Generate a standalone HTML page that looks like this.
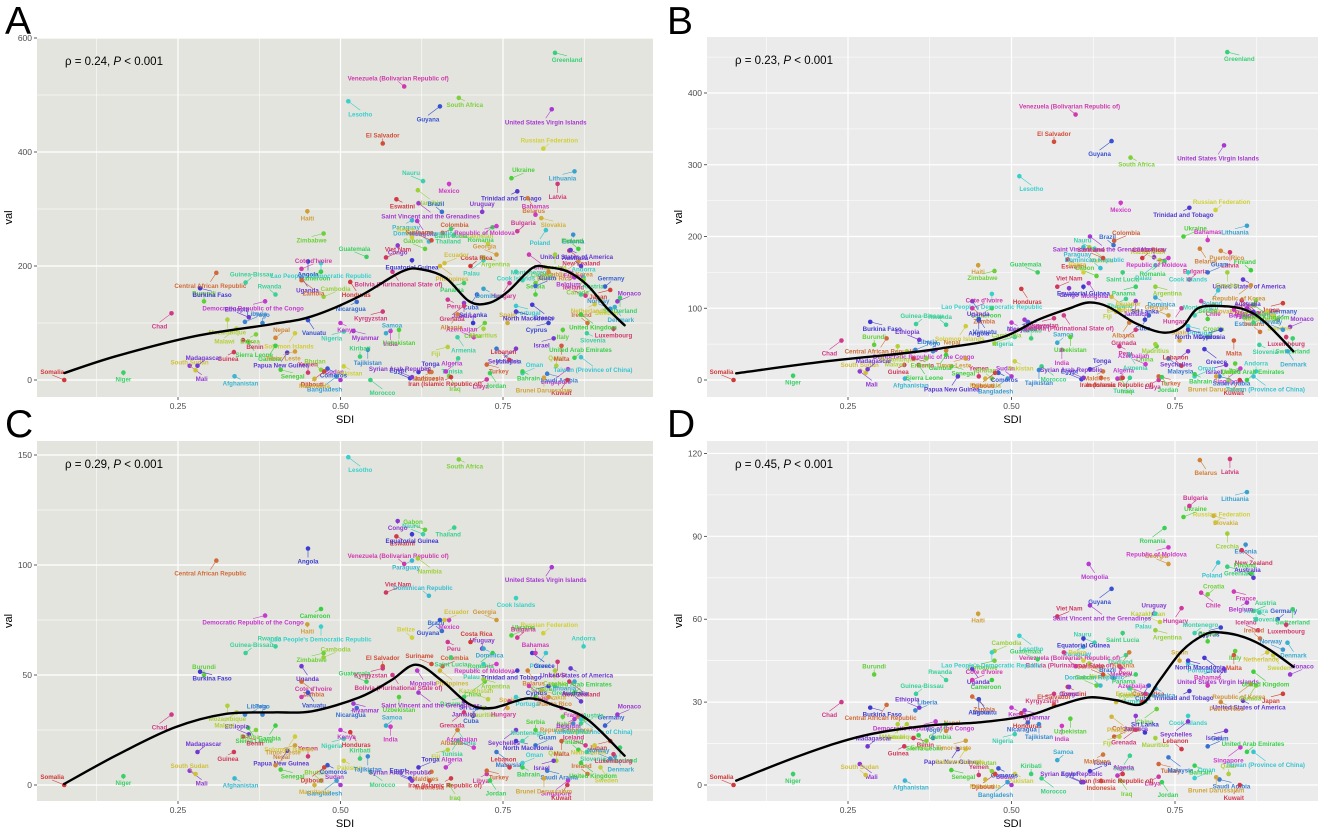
<!DOCTYPE html>
<html><head><meta charset="utf-8">
<style>
html,body{margin:0;padding:0;background:#fff;}
svg{display:block;font-family:"Liberation Sans",Arial,sans-serif;}
</style></head>
<body>
<svg id="chart" width="1325" height="833" viewBox="0 0 1325 833" xmlns="http://www.w3.org/2000/svg"></svg>
<script>
const countries = ["Somalia","Niger","Mali","South Sudan","Afghanistan","Chad","Burundi","Burkina Faso","Central African Republic","Guinea-Bissau","Democratic Republic of the Congo","Mozambique","Liberia","Guinea","Sierra Leone","Ethiopia","Haiti","Lesotho","Venezuela (Bolivarian Republic of)","South Africa","Guyana","El Salvador","Greenland","United States Virgin Islands","Russian Federation","Lithuania","Latvia","Ukraine","Trinidad and Tobago","Belarus","Nauru","Mexico","Namibia","Brazil","Eswatini","Romania","Uruguay","Slovakia","Poland","Bulgaria","Zimbabwe","Angola","Colombia","Thailand","Mongolia","Kazakhstan","Estonia","New Zealand","Finland","United States of America","Republic of Korea","Andorra","France","Canada","Germany","Japan","Switzerland","Monaco","Netherlands","Denmark","Iceland","Italy","Greece","Ireland","Slovenia","Singapore","Qatar","Saudi Arabia","Kuwait","United Arab Emirates","Israel","Brunei Darussalam","Oman","Libya","Iraq","Egypt","Indonesia","Morocco","Sudan","Pakistan","Bangladesh","Yemen","Senegal","Papua New Guinea","Nepal","Nigeria","India","Cambodia","Nicaragua","Honduras","Guatemala","Congo","Philippines","Dominican Republic","Peru","China","Sri Lanka","Turkey","Tunisia","Algeria","Fiji","Tajikistan","Viet Nam","Cameroon","Uganda","Georgia","Cook Islands","Chile",
"Bhutan","Comoros","Djibouti","Kiribati","Myanmar","Solomon Islands","Samoa","Kyrgyzstan","Uzbekistan","Tonga","Maldives","Armenia","Azerbaijan","Mauritius","Malaysia","Lebanon","Bahrain","Seychelles","Spain","Portugal","Hungary","Croatia","Cyprus","Malta","Austria","Belgium","Sweden","Norway","Luxembourg","United Kingdom","Australia","Puerto Rico","Palau","Bahamas","Argentina","Cuba","Costa Rica","Panama","Jamaica","Ecuador","Paraguay","Bolivia (Plurinational State of)","Gabon","Equatorial Guinea","Zambia","Rwanda","Kenya","Malawi","Togo","Benin","Gambia","Madagascar","Timor-Leste","Lao People's Democratic Republic","Cote d'Ivoire","Eritrea","Vanuatu","Suriname","Saint Lucia","Saint Vincent and the Grenadines","Belize","Dominica","Grenada","Serbia","North Macedonia","Albania","Montenegro","Republic of Moldova","Czechia","Guam","Iran (Islamic Republic of)","Jordan","Syrian Arab Republic","Mauritania","Taiwan (Province of China)"];
const sdi = [0.075,0.166,0.268,0.277,0.337,0.240,0.290,0.284,0.309,0.354,0.384,0.326,0.353,0.336,0.358,0.359,0.449,0.512,0.598,0.682,0.653,0.565,0.830,0.825,0.812,0.860,0.834,0.763,0.772,0.788,0.627,0.667,0.619,0.656,0.586,0.734,0.718,0.809,0.816,0.772,0.474,0.450,0.657,0.675,0.618,0.727,0.858,0.852,0.866,0.854,0.866,0.874,0.840,0.874,0.907,0.915,0.930,0.926,0.891,0.922,0.877,0.842,0.795,0.880,0.879,0.850,0.832,0.818,0.849,0.860,0.828,0.813,0.780,0.725,0.667,0.607,0.637,0.546,0.500,0.505,0.494,0.450,0.408,0.418,0.400,0.505,0.577,0.474,0.525,0.515,0.540,0.588,0.653,0.636,0.665,0.722,0.704,0.725,0.681,0.662,0.665,0.542,0.570,0.470,0.440,0.740,0.770,0.790,
0.470,0.480,0.475,0.530,0.520,0.430,0.570,0.565,0.590,0.620,0.640,0.680,0.705,0.720,0.740,0.760,0.780,0.770,0.757,0.770,0.760,0.800,0.820,0.840,0.870,0.860,0.900,0.915,0.920,0.870,0.870,0.820,0.720,0.800,0.720,0.710,0.700,0.690,0.690,0.660,0.610,0.580,0.630,0.610,0.440,0.400,0.500,0.340,0.380,0.350,0.400,0.280,0.430,0.470,0.440,0.370,0.450,0.640,0.670,0.620,0.610,0.720,0.690,0.800,0.770,0.680,0.780,0.740,0.830,0.800,0.670,0.730,0.610,0.460,0.870];
const valA = [0,13,25,17,6.5,117,138,161,188,171,138,106,102,49,67,110,296,489,515,495,480,415,574,475,406,366,344,354,331,319,349,344,333,295,317,268,295,284,263,261,257,208,258,255,279,239,255,227,230,228,208,180,195,176,164,158,144,138,133,128,148,88,132,100,82,19,25,11,0,39,73,4,12,1,7,3,15,0,0,24,6,13,18,48,74,85,86,146,137,172,216,236,200,243,141,100,100,27,38,15,58,53,215,190,180,220,190,220,
18,20,15,41,86,82,82,120,88,14,14,75,75,90,55,35,15,55,100,130,170,170,100,60,150,180,140,125,90,115,200,190,210,290,215,150,200,170,135,205,280,190,230,210,175,150,100,90,100,70,60,25,50,205,195,80,105,245,265,310,250,160,130,150,120,115,175,270,220,165,5,12,5,2,40];
const valB = [0,6,12,10,2,55,49,81,58,78,42,47,42,21,21,56,160,284,370,310,333,332,457,327,237,215,178,200,240,183,183,247,185,188,168,166,171,105,125,140,152,83,194,113,135,167,88,111,153,140,132,12,98,111,84,107,58,74,95,40,93,23,43,67,49,16,0,5,0,0,21,5,5,0,2,1,3,19,5,26,2,5,19,5,41,60,42,51,81,127,150,128,116,156,47,47,84,5,3,2,98,14,130,100,110,90,150,110,
2,10,10,58,84,75,52,86,60,15,12,35,22,50,30,20,8,40,55,75,100,60,70,55,80,100,90,70,60,105,95,180,160,195,130,90,170,130,110,95,185,90,145,130,100,77,80,40,40,30,35,15,30,120,100,30,85,170,150,200,150,115,70,85,70,80,90,170,150,150,3,4,3,2,5];
const valC = [0,4,6.5,5,3,32,50,51.5,102,60,77,36,32,15,26,23,73,149,100.5,148,75,54,45,99,69,47,56,68,52,52,114,75,103,70,113,60,62,43,60,67,60,107.5,54,117,52,39,28,47,16,53,31,63,35,30,27,20,17,32,18,13,18,31,60,5,15,2,11,6.5,0,42,11,3,10,5,0,3,2,6,0,11,2,13,7,15.6,9,21,26.5,58,35,24,47,120,52,86,65,47,31.5,6.5,20,8,16,13,87.5,80,54,75,85,45,
2,9,8,12,37,22,27,53,40,8,6,25,17,35,15,8,8,25,35,40,38,40,45,20,28,30,8,12,14,10,38,40,55,60,48,35,65,40,38,75,102,50,116,114,47,63,25,33,32,22,27,15,18,72,40,25,42,55,58,42,67,62,33,25,20,25,20,55,52,18,3,2,2,0,30];
const valD = [0,4,7.6,3.6,1.6,30,40,28,29,33,23,22,27,14,18,28,62,54,43,35,71,29,79,42,95,106,118,97,34,117.6,51.5,42.5,44,38.7,35.5,93,62,97.4,80.5,101,45,31,17.5,47,80,59,87,85,76.5,30.5,36.5,60,70,36,60,33,63.6,40,48,51.5,56,48.5,46,53,62.4,13.6,4,2,0,12,19.6,2.8,2.5,3,1.5,1,1.5,2.4,0,4,1,3.6,5.4,13,19.6,18.4,21.4,48.5,22.6,26,45.5,35.5,24.7,36,43,27.5,19,7.6,10.6,3.4,17.5,22,61,38,42,80,25,69.6,
5,6,4,4,27,13,9,33,24,5,11,35,33,17,10,13,7,23,45,44,64,69,57,47,63,66,47,49,58,41,75,30,62,36,56,36,30,40,25,30,50,48,36,53,32,38,28,22,17,17,22,14,16,48,38,16,31,40,55,65,45,35,20,52,45,48,55,86,91,14,4,1,1,2,12];

const curveSdiA = [0.0754,0.154,0.275,0.396,0.456,0.529,0.595,0.626,0.662,0.698,0.728,0.758,0.795,0.819,0.849,0.879,0.910,0.937];
const curveValA = [12.3,41.5,76.6,98.2,111.7,146.8,190.6,193.6,179,138,135,155.6,196.5,197.7,190.6,167,126,96];
const curveSdiB = [0.079,0.213,0.332,0.392,0.481,0.541,0.589,0.618,0.648,0.690,0.732,0.761,0.785,0.821,0.857,0.887,0.931];
const curveValB = [9.3,25.6,37,44,58,84,100,108,102,79,66,74,100,103,98,81,40];
const curveSdiC = [0.075,0.154,0.245,0.323,0.396,0.456,0.529,0.577,0.616,0.656,0.698,0.734,0.789,0.831,0.879,0.937];
const curveValC = [0.5,13.3,26.2,32.3,33,33.5,39.8,47.4,54.7,47.4,36.8,35,39.4,36,30,13.3];
const curveSdiD = [0.079,0.183,0.273,0.368,0.452,0.523,0.571,0.618,0.660,0.699,0.726,0.761,0.797,0.821,0.857,0.893,0.931];
const curveValD = [1.6,11.2,17.8,21.4,22.7,25,28.7,31.7,30.7,29.3,37.7,48.6,54.6,55.2,53.4,49.2,42.8];

const xTicks = [0.25,0.5,0.75];
const xTickLabels = ["0.25","0.50","0.75"];
const xMinor = [0.125,0.375,0.625,0.875];
const yTicksA = [0,200,400,600]; const yMinorA = [100,300,500];
const yTicksB = [0,100,200,300,400]; const yMinorB = [50,150,250,350,450];
const yTicksC = [0,50,100,150]; const yMinorC = [25,75,125];
const yTicksD = [0,30,60,90,120]; const yMinorD = [15,45,75,105];
const statsText = ["0.24","0.23","0.29","0.45"];

const NS = "http://www.w3.org/2000/svg";
const svg = document.getElementById("chart");
function mk(tag, attrs, parent){ const e=document.createElementNS(NS,tag); for(const k in attrs) e.setAttribute(k,attrs[k]); (parent||svg).appendChild(e); return e; }
function color(i){ const h=(i*137.5)%360; return "hsl("+h.toFixed(0)+",62%,52%)"; }

const panels = [
 {id:"a", letter:"A", lx:5, ly:34, left:37, top:38, w:616, h:359, x0:15.5, xs:650, y0:380, ys:0.57, vals:valA, cs:curveSdiA, cv:curveValA, yt:yTicksA, ym:yMinorA, bg:"#e4e4df"},
 {id:"b", letter:"B", lx:667, ly:34, left:707, top:37, w:611, h:360, x0:684.5, xs:654, y0:380, ys:0.7175, vals:valB, cs:curveSdiB, cv:curveValB, yt:yTicksB, ym:yMinorB, bg:"#ebebeb"},
 {id:"c", letter:"C", lx:5, ly:437, left:37, top:441, w:616, h:360, x0:15.5, xs:650, y0:785, ys:2.2, vals:valC, cs:curveSdiC, cv:curveValC, yt:yTicksC, ym:yMinorC, bg:"#e4e4df"},
 {id:"d", letter:"D", lx:667, ly:437, left:707, top:441, w:611, h:360, x0:684.5, xs:654, y0:785, ys:2.763, vals:valD, cs:curveSdiD, cv:curveValD, yt:yTicksD, ym:yMinorD, bg:"#ebebeb"}
];

function smoothPath(P){
  let d = "M"+P[0][0].toFixed(1)+","+P[0][1].toFixed(1);
  for(let i=0;i<P.length-1;i++){
    const p0=P[Math.max(0,i-1)], p1=P[i], p2=P[i+1], p3=P[Math.min(P.length-1,i+2)];
    const c1x=p1[0]+(p2[0]-p0[0])/6, c1y=p1[1]+(p2[1]-p0[1])/6;
    const c2x=p2[0]-(p3[0]-p1[0])/6, c2y=p2[1]-(p3[1]-p1[1])/6;
    d += "C"+c1x.toFixed(1)+","+c1y.toFixed(1)+" "+c2x.toFixed(1)+","+c2y.toFixed(1)+" "+p2[0].toFixed(1)+","+p2[1].toFixed(1);
  }
  return d;
}

panels.forEach((p,pi)=>{
  const X = s => p.x0 + p.xs*s;
  const Y = v => p.y0 - p.ys*v;
  const g = mk("g",{});
  
  
  const letter = mk("text",{x:p.lx,y:p.ly,"font-size":"39","fill":"#000"},g);
  letter.textContent = p.letter;
  
  
  const bg = mk("rect",{x:p.left,y:p.top,width:p.w,height:p.h,fill:p.bg},g);
  
  
  const clipId = "clip"+p.id;
  const cp = mk("clipPath",{id:clipId},g);
  mk("rect",{x:p.left,y:p.top,width:p.w,height:p.h},cp);
  const grid = mk("g",{"clip-path":"url(#"+clipId+")"},g);
  
  
  xMinor.forEach(s=>mk("line",{x1:X(s),x2:X(s),y1:p.top,y2:p.top+p.h,stroke:"#fff","stroke-width":0.6},grid));
  p.ym.forEach(v=>mk("line",{x1:p.left,x2:p.left+p.w,y1:Y(v),y2:Y(v),stroke:"#fff","stroke-width":0.6},grid));
  xTicks.forEach(s=>mk("line",{x1:X(s),x2:X(s),y1:p.top,y2:p.top+p.h,stroke:"#fff","stroke-width":1.2},grid));
  p.yt.forEach(v=>mk("line",{x1:p.left,x2:p.left+p.w,y1:Y(v),y2:Y(v),stroke:"#fff","stroke-width":1.2},grid));
  p.yt.forEach(v=>{
    mk("line",{x1:p.left-3,x2:p.left,y1:Y(v),y2:Y(v),stroke:"#333","stroke-width":0.8},g);
    const lb = mk("text",{x:p.left-5,y:Y(v)+3,"font-size":"8.5","fill":"#4d4d4d","text-anchor":"end"},g);
    lb.textContent = String(v);
    
    
  });
  const bottom = p.top+p.h;
  xTicks.forEach((s,i)=>{
    mk("line",{x1:X(s),x2:X(s),y1:bottom,y2:bottom+3,stroke:"#333","stroke-width":0.8},g);
    const lb = mk("text",{x:X(s),y:bottom+12,"font-size":"8.5","fill":"#4d4d4d","text-anchor":"middle"},g);
    lb.textContent = xTickLabels[i];
    
    
  });
  const xt = mk("text",{x:p.left+p.w/2,y:bottom+26,"font-size":"11","fill":"#000","text-anchor":"middle"},g);
  xt.textContent = "SDI";
  
  
  const yx = p.left-25, yy = p.top+p.h/2;
  const yt = mk("text",{x:yx,y:yy,"font-size":"11","fill":"#000","text-anchor":"middle",transform:"rotate(-90 "+yx+" "+yy+")"},g);
  yt.textContent = "val";
  
  
  const pts = mk("g",{"clip-path":"url(#"+clipId+")"},g);
  
  
  countries.forEach((c,i)=>{
    const cx = X(sdi[i]), cy = Y(p.vals[i]);
    const col = color(i);
    const dx = ((i*7)%5-2)*6, dy = (i%3===0)? -6 : ((i%3===1)? 9 : 15);
    mk("line",{x1:cx,y1:cy,x2:cx+dx,y2:cy+dy-(dy>0?6:-1),stroke:col,"stroke-width":0.6},pts);
    const dot = mk("circle",{cx:cx,cy:cy,r:2.3,fill:col},pts);
    
    
    const lb = mk("text",{x:cx+dx,y:cy+dy,"font-size":"6.2","font-weight":"bold","fill":col,"text-anchor":"middle"},pts);
    lb.textContent = c;
    
    
  });
  const P = p.cs.map((s,i)=>[X(s),Y(p.cv[i])]);
  const curve = mk("path",{d:smoothPath(P),fill:"none",stroke:"#000","stroke-width":2.4,"stroke-linejoin":"round","stroke-linecap":"round"},g);
  
  
  const st = mk("text",{x:p.left+28,y:p.top+27,"font-size":"11.5","fill":"#000"},g);
  
  
  const t1 = mk("tspan",{},st); t1.textContent = "ρ = "+statsText[pi]+", ";
  const t2 = mk("tspan",{"font-style":"italic"},st); t2.textContent = "P";
  const t3 = mk("tspan",{},st); t3.textContent = " < 0.001";
});
</script>
</body></html>
